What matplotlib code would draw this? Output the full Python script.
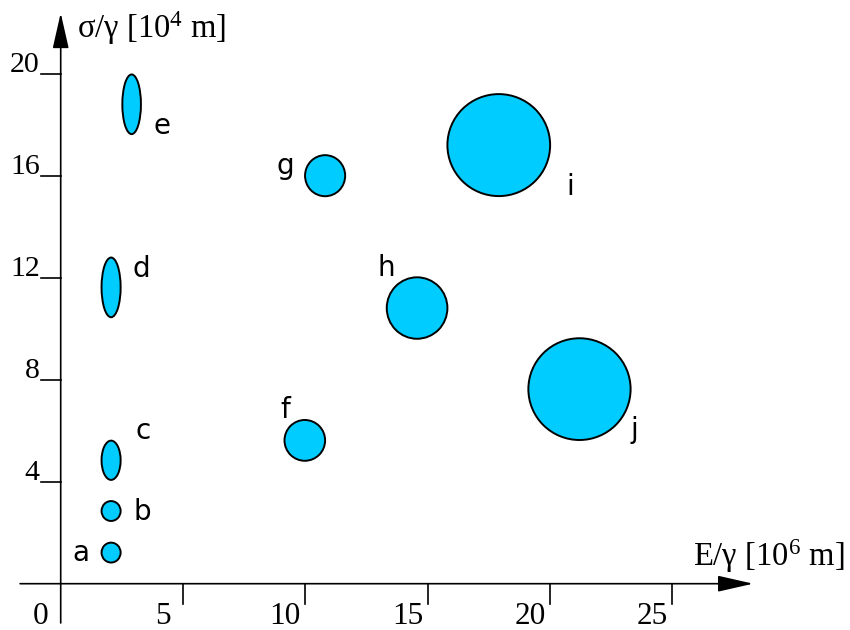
import matplotlib
matplotlib.use("Agg")
import matplotlib.pyplot as plt
from matplotlib.patches import Ellipse

plt.rcParams['mathtext.fontset'] = 'custom'
plt.rcParams['mathtext.rm'] = 'Liberation Serif'
plt.rcParams['mathtext.it'] = 'Liberation Serif:italic'

# ---- data ----
labels = ['a', 'b', 'c', 'd', 'e', 'f', 'g', 'h', 'i', 'j']
x_vals = [2.06, 2.06, 2.06, 2.06, 2.90, 9.98, 10.81, 14.57, 17.91, 21.21]
y_vals = [1.22, 2.85, 4.84, 11.62, 18.8, 5.62, 16.0, 10.81, 17.2, 7.63]
widths = [0.78, 0.78, 0.78, 0.78, 0.76, 1.66, 1.64, 2.48, 4.2, 4.18]
heights = [0.78, 0.78, 1.54, 2.34, 2.34, 1.6, 1.61, 2.41, 4.0, 3.99]
label_x = [0.81, 3.34, 3.35, 3.31, 4.16, 9.20, 9.20, 13.30, 20.82, 23.44]
label_y = [0.89, 2.50, 5.66, 12.04, 17.64, 6.49, 16.07, 12.07, 15.24, 5.71]

x_ticks = [0, 5, 10, 15, 20, 25]
x_tick_labels = ['0', '5', '10', '15', '20', '25']
y_ticks = [4, 8, 12, 16, 20]
y_tick_labels = ['4', '8', '12', '16', '20']

x_label = r'E/γ [10$^{6}$ m]'
y_label = r'σ/γ [10$^{4}$ m]'

fill = '#00CCFF'

fig = plt.figure(figsize=(8.5, 6.3), dpi=100)
ax = fig.add_axes([0, 0, 1, 1])
ax.set_xlim(-2.482, 32.27)
ax.set_ylim(-1.816, 22.89)
ax.axis('off')

px_x = 24.46  # pixels per x unit
px_y = 25.5   # pixels per y unit

serif = 'Liberation Serif'
lw = 1.2

# axes with arrows
ax.annotate('', xy=(28.31, 0), xytext=(-1.66, 0),
            arrowprops=dict(arrowstyle='-|>,head_length=2.2,head_width=0.5',
                            mutation_scale=10, lw=lw, color='black',
                            shrinkA=0, shrinkB=0))
ax.annotate('', xy=(0, 22.38), xytext=(0, -1.54),
            arrowprops=dict(arrowstyle='-|>,head_length=2.2,head_width=0.5',
                            mutation_scale=10, lw=lw, color='black',
                            shrinkA=0, shrinkB=0))

# x ticks
for t, lab in zip(x_ticks, x_tick_labels):
    if t != 0:
        ax.plot([t, t], [0, -20 / px_y], color='black', lw=lw)
    ax.annotate(lab, xy=(t, 0), xytext=(-20 * 0.72, -40 * 0.72),
                textcoords='offset points', ha='center', va='baseline',
                fontsize=22.5, family=serif)

# y ticks
for t, lab in zip(y_ticks, y_tick_labels):
    ax.plot([-20 / px_x, 0], [t, t], color='black', lw=lw)
    ax.annotate(lab, xy=(0, t), xytext=(-21 * 0.72, 1.5 * 0.72),
                textcoords='offset points', ha='right', va='baseline',
                fontsize=21.5, family=serif)

# axis labels
ax.text((693 - 60.7) / px_x, (583.7 - 566) / px_y, x_label, ha='left',
        va='baseline', fontsize=23.5, family=serif)
ax.text((77 - 60.7) / px_x, (583.7 - 38) / px_y, y_label, ha='left',
        va='baseline', fontsize=23.5, family=serif)

# ellipses
for xv, yv, w, h in zip(x_vals, y_vals, widths, heights):
    ax.add_patch(Ellipse((xv, yv), w, h, facecolor=fill, edgecolor='black',
                         lw=1.4, zorder=3))

for lab, lx, ly in zip(labels, label_x, label_y):
    ax.text(lx, ly, lab, ha='center', va='baseline', fontsize=20,
            family='DejaVu Sans')

fig.savefig('out.png', dpi=100)
